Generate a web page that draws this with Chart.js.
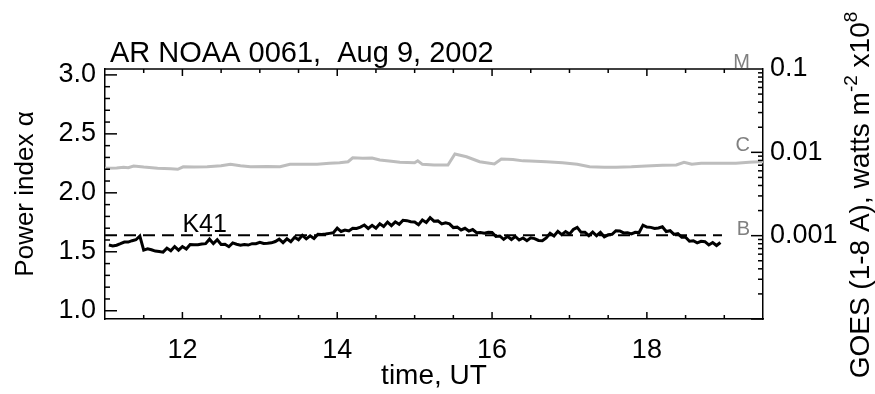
<!DOCTYPE html>
<html>
<head>
<meta charset="utf-8">
<script src="https://cdn.jsdelivr.net/npm/chart.js@4.4.1/dist/chart.umd.min.js"></script>
<style>
  html, body { margin: 0; padding: 0; background: #fff; }
  #wrap { width: 875px; height: 394px; }
</style>
</head>
<body>
<div id="wrap"><canvas id="mainChart" width="875" height="394"></canvas></div>
<script>
// power index alpha, hours UT
const alphaTime = [
  11.05, 11.1, 11.15, 11.2, 11.25, 11.3, 11.35, 11.4, 11.45, 11.5,
  11.55, 11.6, 11.65, 11.7, 11.75, 11.8, 11.85, 11.9, 11.95, 12.0,
  12.05, 12.1, 12.15, 12.2, 12.25, 12.3, 12.35, 12.4, 12.45, 12.5,
  12.55, 12.6, 12.65, 12.7, 12.75, 12.8, 12.85, 12.9, 12.95, 13.0,
  13.05, 13.1, 13.15, 13.2, 13.25, 13.3, 13.35, 13.4, 13.45, 13.5,
  13.55, 13.6, 13.65, 13.7, 13.75, 13.8, 13.85, 13.9, 13.95, 14.0,
  14.05, 14.1, 14.15, 14.2, 14.25, 14.3, 14.35, 14.4, 14.45, 14.5,
  14.55, 14.6, 14.65, 14.7, 14.75, 14.8, 14.85, 14.9, 14.95, 15.0,
  15.05, 15.1, 15.15, 15.2, 15.25, 15.3, 15.35, 15.4, 15.45, 15.5,
  15.55, 15.6, 15.65, 15.7, 15.75, 15.8, 15.85, 15.9, 15.95, 16.0,
  16.05, 16.1, 16.15, 16.2, 16.25, 16.3, 16.35, 16.4, 16.45, 16.5,
  16.55, 16.6, 16.65, 16.7, 16.75, 16.8, 16.85, 16.9, 16.95, 17.0,
  17.05, 17.1, 17.15, 17.2, 17.25, 17.3, 17.35, 17.4, 17.45, 17.5,
  17.55, 17.6, 17.65, 17.7, 17.75, 17.8, 17.85, 17.9, 17.95, 18.0,
  18.05, 18.1, 18.15, 18.2, 18.25, 18.3, 18.35, 18.4, 18.45, 18.5,
  18.55, 18.6, 18.65, 18.7, 18.75, 18.8, 18.85, 18.9, 18.95
];
const alphaValue = [
  1.557, 1.550, 1.556, 1.569, 1.583, 1.582, 1.594, 1.602, 1.634, 1.514,
  1.525, 1.517, 1.506, 1.502, 1.497, 1.531, 1.509, 1.544, 1.514, 1.544,
  1.523, 1.562, 1.560, 1.560, 1.566, 1.569, 1.607, 1.569, 1.602, 1.562,
  1.564, 1.543, 1.575, 1.564, 1.555, 1.562, 1.557, 1.569, 1.568, 1.580,
  1.570, 1.572, 1.576, 1.587, 1.607, 1.578, 1.610, 1.585, 1.624, 1.602,
  1.640, 1.610, 1.636, 1.613, 1.649, 1.647, 1.650, 1.656, 1.661, 1.701,
  1.672, 1.684, 1.677, 1.700, 1.698, 1.709, 1.727, 1.698, 1.724, 1.699,
  1.737, 1.714, 1.752, 1.722, 1.754, 1.733, 1.767, 1.764, 1.755, 1.752,
  1.729, 1.769, 1.749, 1.789, 1.760, 1.762, 1.736, 1.745, 1.737, 1.705,
  1.709, 1.685, 1.699, 1.676, 1.689, 1.662, 1.664, 1.658, 1.665, 1.664,
  1.630, 1.634, 1.605, 1.631, 1.604, 1.630, 1.600, 1.617, 1.594, 1.619,
  1.612, 1.596, 1.594, 1.617, 1.657, 1.634, 1.674, 1.646, 1.672, 1.650,
  1.689, 1.707, 1.665, 1.666, 1.637, 1.667, 1.636, 1.664, 1.627, 1.644,
  1.648, 1.679, 1.677, 1.660, 1.662, 1.651, 1.665, 1.664, 1.726, 1.710,
  1.707, 1.698, 1.702, 1.712, 1.672, 1.679, 1.647, 1.654, 1.624, 1.624,
  1.590, 1.594, 1.576, 1.589, 1.586, 1.558, 1.579, 1.553, 1.579
];

// GOES 1-8 A flux (right axis)
const goesTime = [
  11.0, 11.15, 11.24, 11.3, 11.37, 11.5, 11.68, 11.85, 11.94, 12.01,
  12.15, 12.32, 12.5, 12.62, 12.75, 12.88, 13.1, 13.26, 13.39, 13.55,
  13.74, 13.9, 14.03, 14.14, 14.2, 14.33, 14.45, 14.55, 14.7, 14.81,
  15.0, 15.04, 15.1, 15.25, 15.43, 15.52, 15.67, 15.84, 16.03, 16.12,
  16.27, 16.4, 16.49, 16.7, 16.91, 17.1, 17.26, 17.45, 17.6, 17.8,
  17.99, 18.2, 18.38, 18.48, 18.58, 18.7, 18.84, 19.0, 19.15, 19.32,
  19.45, 19.5
];
const goesFlux = [
  0.00643, 0.00650, 0.00661, 0.00655, 0.00686, 0.00665, 0.00643, 0.00635, 0.00625, 0.00671,
  0.00665, 0.00671, 0.00690, 0.00718, 0.00690, 0.00671, 0.00675, 0.00671, 0.00718, 0.00720,
  0.00718, 0.00740, 0.00750, 0.00771, 0.00861, 0.00847, 0.00855, 0.00809, 0.00780, 0.00759,
  0.00750, 0.00793, 0.00718, 0.00705, 0.00705, 0.00955, 0.00885, 0.00771, 0.00724, 0.00832,
  0.00820, 0.00790, 0.00787, 0.00770, 0.00750, 0.00720, 0.00671, 0.00660, 0.00661, 0.00670,
  0.00686, 0.00700, 0.00705, 0.00759, 0.00718, 0.00740, 0.00738, 0.00738, 0.00738, 0.00759,
  0.00771, 0.00771
];

const k41Level = 1.64;
const k41Span = [11.0, 18.97];
const xTicks = [12, 14, 16, 18];
const alphaTicks = [1.0, 1.5, 2.0, 2.5, 3.0];
const fluxTicks = [0.001, 0.01, 0.1];
const flareClasses = ['B', 'C', 'M'];
const flareLevels = [0.001, 0.01, 0.1];

const FONT = "'Liberation Sans', Arial, Helvetica, sans-serif";
const pts = (xs, ys) => xs.map((x, i) => ({ x: x, y: ys[i] }));

const idlFrame = {
  id: 'idlFrame',
  afterDraw(chart) {
    const ctx = chart.ctx;
    const a = chart.chartArea;
    const sx = chart.scales.x, sa = chart.scales.alpha, sf = chart.scales.flux;
    ctx.save();
    ctx.strokeStyle = '#000';
    ctx.lineWidth = 1.5;
    // top border
    ctx.beginPath();
    ctx.moveTo(a.left, a.top); ctx.lineTo(a.right, a.top);
    ctx.stroke();

    const hline = (x0, x1, y) => { ctx.beginPath(); ctx.moveTo(x0, y); ctx.lineTo(x1, y); ctx.stroke(); };
    const vline = (x, y0, y1) => { ctx.beginPath(); ctx.moveTo(x, y0); ctx.lineTo(x, y1); ctx.stroke(); };

    // time ticks, bottom and top, pointing in
    for (let t = 11.5; t < 19.5; t += 0.5) {
      const len = xTicks.includes(t) ? 7 : 4;
      const px = sx.getPixelForValue(t);
      vline(px, a.bottom, a.bottom - len);
      vline(px, a.top, a.top + len);
    }
    // alpha ticks on left
    for (let k = 10; k <= 30; k++) {
      const major = k % 5 === 0;
      const py = sa.getPixelForValue(k / 10);
      hline(a.left, a.left + (major ? 12 : 5), py);
    }
    // flux ticks on right (log)
    for (let e = -4; e <= -2; e++) {
      for (let m = 1; m <= 9; m++) {
        const v = m * Math.pow(10, e);
        if (v < sf.min || v > sf.max) continue;
        const py = sf.getPixelForValue(v);
        hline(a.right, a.right - (m === 1 ? 12 : 5), py);
      }
    }

    // title
    ctx.fillStyle = '#000';
    ctx.font = '29px ' + FONT;
    ctx.textAlign = 'left';
    ctx.textBaseline = 'alphabetic';
    ctx.fillText('AR NOAA 0061,  Aug 9, 2002', a.left + 5, 62);

    // K41 label
    ctx.font = '25px ' + FONT;
    ctx.fillText('K41', sx.getPixelForValue(12.0), sa.getPixelForValue(k41Level) - 3);

    // flare classes
    ctx.fillStyle = '#808080';
    ctx.font = '20px ' + FONT;
    ctx.textAlign = 'right';
    flareClasses.forEach((c, i) => {
      ctx.fillText(c, a.right - 13, sf.getPixelForValue(flareLevels[i]) - 1);
    });

    // right axis title with superscripts, reads bottom to top
    ctx.fillStyle = '#000';
    ctx.textAlign = 'left';
    const big = '28px ' + FONT, small = '19px ' + FONT;
    const parts = [['GOES (1-8 A), watts m', big, 0], ['-2', small, -12], [' x10', big, 0], ['8', small, -12]];
    let total = 0;
    parts.forEach(p => { ctx.font = p[1]; p.push(ctx.measureText(p[0]).width); total += p[3]; });
    ctx.translate(869, 195);
    ctx.rotate(-Math.PI / 2);
    let cx = -total / 2;
    parts.forEach(p => { ctx.font = p[1]; ctx.fillText(p[0], cx, p[2]); cx += p[3]; });
    ctx.restore();
  }
};

const tickFont = { family: FONT, size: 27 };

new Chart(document.getElementById('mainChart').getContext('2d'), {
  type: 'line',
  data: {
    datasets: [
      { data: pts(alphaTime, alphaValue), yAxisID: 'alpha', borderColor: '#000', borderWidth: 3, pointRadius: 0, tension: 0 },
      { data: pts(k41Span, [k41Level, k41Level]), yAxisID: 'alpha', borderColor: '#000', borderWidth: 2, borderDash: [12, 7], pointRadius: 0 },
      { data: pts(goesTime, goesFlux), yAxisID: 'flux', borderColor: '#bdbdbd', borderWidth: 3, pointRadius: 0, tension: 0 }
    ]
  },
  options: {
    responsive: false,
    animation: false,
    layout: { padding: { top: 69, left: 0, right: 0, bottom: 0 } },
    plugins: { legend: { display: false }, title: { display: false }, tooltip: { enabled: false } },
    scales: {
      x: {
        type: 'linear', min: 11, max: 19.5,
        grid: { display: false, drawTicks: false },
        border: { display: true, color: '#000', width: 1.5 },
        afterBuildTicks: s => { s.ticks = xTicks.map(v => ({ value: v })); },
        ticks: { font: tickFont, color: '#000', padding: 15, maxRotation: 0, autoSkip: false },
        title: { display: true, text: 'time, UT', font: { family: FONT, size: 28 }, color: '#000', padding: { top: 0, bottom: 1 } },
        afterFit: s => { s.height = 75; }
      },
      alpha: {
        type: 'linear', position: 'left', min: 0.93, max: 3.05,
        grid: { display: false, drawTicks: false },
        border: { display: true, color: '#000', width: 1.5 },
        afterBuildTicks: s => { s.ticks = alphaTicks.map(v => ({ value: v })); },
        ticks: { font: tickFont, color: '#000', padding: 9, autoSkip: false, callback: v => v.toFixed(1) },
        title: { display: true, text: 'Power index α', font: { family: FONT, size: 26 }, color: '#000', padding: { top: 10, bottom: 0 } },
        afterFit: s => { s.width = 105; }
      },
      flux: {
        type: 'logarithmic', position: 'right', min: 0.0001, max: 0.1,
        grid: { display: false, drawTicks: false },
        border: { display: true, color: '#000', width: 1.5 },
        afterBuildTicks: s => { s.ticks = fluxTicks.map(v => ({ value: v })); },
        ticks: { font: tickFont, color: '#000', padding: 7, autoSkip: false, callback: v => String(v) },
        afterFit: s => { s.width = 112; }
      }
    }
  },
  plugins: [idlFrame]
});
</script>
</body>
</html>
